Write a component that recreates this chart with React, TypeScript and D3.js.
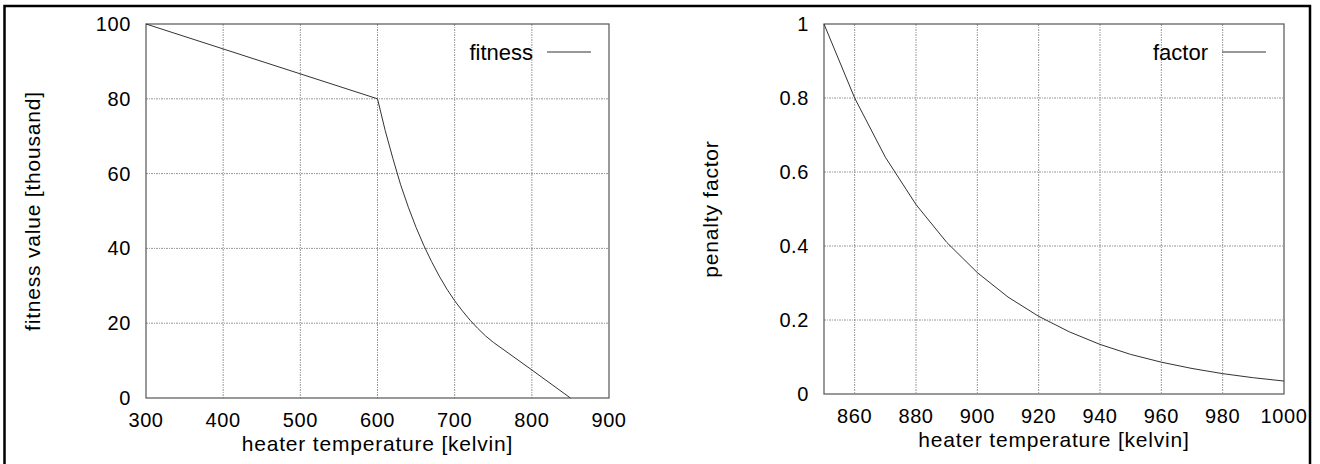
import * as d3 from 'd3';
import { useEffect, useRef } from 'react';

// left panel: fitness over heater temperature (values in thousand)
const fitnessTemp = [300, 600, 610, 620, 630, 640, 650, 660, 670, 680, 690, 700, 710, 720, 730, 740, 750, 800, 850];
const fitnessValue = [100, 80, 71.5, 64, 57, 51, 45.6, 40.8, 36.5, 32.6, 29.1, 26, 23.3, 20.8, 18.6, 16.6, 14.9, 7.5, 0];
const fitnessXTicks = [300, 400, 500, 600, 700, 800, 900];
const fitnessYTicks = [0, 20, 40, 60, 80, 100];

// right panel: penalty factor over heater temperature
const factorTemp = [850, 860, 870, 880, 890, 900, 910, 920, 930, 940, 950, 960, 970, 980, 990, 1000];
const factorValue = [1, 0.8, 0.64, 0.512, 0.41, 0.328, 0.262, 0.21, 0.168, 0.134, 0.107, 0.086, 0.069, 0.055, 0.044, 0.035];
const factorXTicks = [860, 880, 900, 920, 940, 960, 980, 1000];
const factorYTicks = [0, 0.2, 0.4, 0.6, 0.8, 1];

const FONT = '"Liberation Sans", Arial, Helvetica, sans-serif';

function App() {
    const svgRef = useRef(null);

    useEffect(() => {
        const svg = d3.select(svgRef.current);
        svg.selectAll('*').remove();

        // outer frame round both panels
        svg.append('rect')
            .attr('x', 4.5).attr('y', 6)
            .attr('width', 1305.5).attr('height', 470)
            .attr('fill', 'none')
            .attr('stroke', '#000')
            .attr('stroke-width', 2.5);

        function panel(opt) {
            const { left, right, top, bottom, xDomain, yDomain, xTicks, yTicks, xs, ys, xTitle, yTitle, legend, fmt } = opt;
            const x = d3.scaleLinear().domain(xDomain).range([left, right]);
            const y = d3.scaleLinear().domain(yDomain).range([bottom, top]);
            const g = svg.append('g').style('font-family', FONT);

            // grid (gnuplot style dotted lines)
            g.selectAll('line.gx')
                .data(xTicks.filter(t => t > xDomain[0] && t < xDomain[1]))
                .join('line')
                .attr('x1', d => x(d)).attr('x2', d => x(d))
                .attr('y1', top).attr('y2', bottom)
                .attr('stroke', '#8a8a8a')
                .attr('stroke-width', 0.9)
                .attr('stroke-dasharray', '2,1,1,1');
            g.selectAll('line.gy')
                .data(yTicks.filter(t => t > yDomain[0] && t < yDomain[1]))
                .join('line')
                .attr('x1', left).attr('x2', right)
                .attr('y1', d => y(d)).attr('y2', d => y(d))
                .attr('stroke', '#8a8a8a')
                .attr('stroke-width', 0.9)
                .attr('stroke-dasharray', '2,1,1,1');

            // plot border
            g.append('rect')
                .attr('x', left).attr('y', top)
                .attr('width', right - left).attr('height', bottom - top)
                .attr('fill', 'none')
                .attr('stroke', '#555')
                .attr('stroke-width', 1.2);

            // tick labels
            g.selectAll('text.xt')
                .data(xTicks)
                .join('text')
                .attr('x', d => x(d))
                .attr('y', bottom + 29)
                .attr('text-anchor', 'middle')
                .attr('font-size', 20)
                .attr('letter-spacing', 0.6)
                .text(d => d);
            g.selectAll('text.yt')
                .data(yTicks)
                .join('text')
                .attr('x', left - 15)
                .attr('y', d => y(d) + 7)
                .attr('text-anchor', 'end')
                .attr('font-size', 20)
                .attr('letter-spacing', 0.6)
                .text(d => fmt(d));

            // axis titles
            g.append('text')
                .attr('x', (left + right) / 2)
                .attr('y', bottom + 53)
                .attr('text-anchor', 'middle')
                .attr('font-size', 21)
                .attr('letter-spacing', 0.8)
                .text(xTitle);
            g.append('text')
                .attr('transform', `translate(${left - 106},${(top + bottom) / 2}) rotate(-90)`)
                .attr('text-anchor', 'middle')
                .attr('font-size', 21)
                .attr('letter-spacing', 0.8)
                .text(yTitle);

            // legend, top right
            g.append('text')
                .attr('x', right - 76)
                .attr('y', top + 36)
                .attr('text-anchor', 'end')
                .attr('font-size', 22)
                .text(legend);
            g.append('line')
                .attr('x1', right - 62).attr('x2', right - 18)
                .attr('y1', top + 28).attr('y2', top + 28)
                .attr('stroke', '#333')
                .attr('stroke-width', 1);

            // data curve
            const line = d3.line()
                .x(i => x(xs[i]))
                .y(i => y(ys[i]));
            g.append('path')
                .datum(d3.range(xs.length))
                .attr('fill', 'none')
                .attr('stroke', '#333')
                .attr('stroke-width', 1)
                .attr('d', line);
        }

        panel({
            left: 146, right: 609, top: 24, bottom: 398,
            xDomain: [300, 900], yDomain: [0, 100],
            xTicks: fitnessXTicks, yTicks: fitnessYTicks,
            xs: fitnessTemp, ys: fitnessValue,
            xTitle: 'heater temperature [kelvin]',
            yTitle: 'fitness value [thousand]',
            legend: 'fitness',
            fmt: d => d,
        });

        panel({
            left: 824, right: 1284, top: 24, bottom: 394,
            xDomain: [850, 1000], yDomain: [0, 1],
            xTicks: factorXTicks, yTicks: factorYTicks,
            xs: factorTemp, ys: factorValue,
            xTitle: 'heater temperature [kelvin]',
            yTitle: 'penalty factor',
            legend: 'factor',
            fmt: d => d3.format('')(d),
        });
    }, []);

    return (
        <svg
            ref={svgRef}
            width={1320}
            height={464}
            style={{ position: 'absolute', left: 0, top: 0, background: '#fff' }}
        />
    );
}

export default App;
